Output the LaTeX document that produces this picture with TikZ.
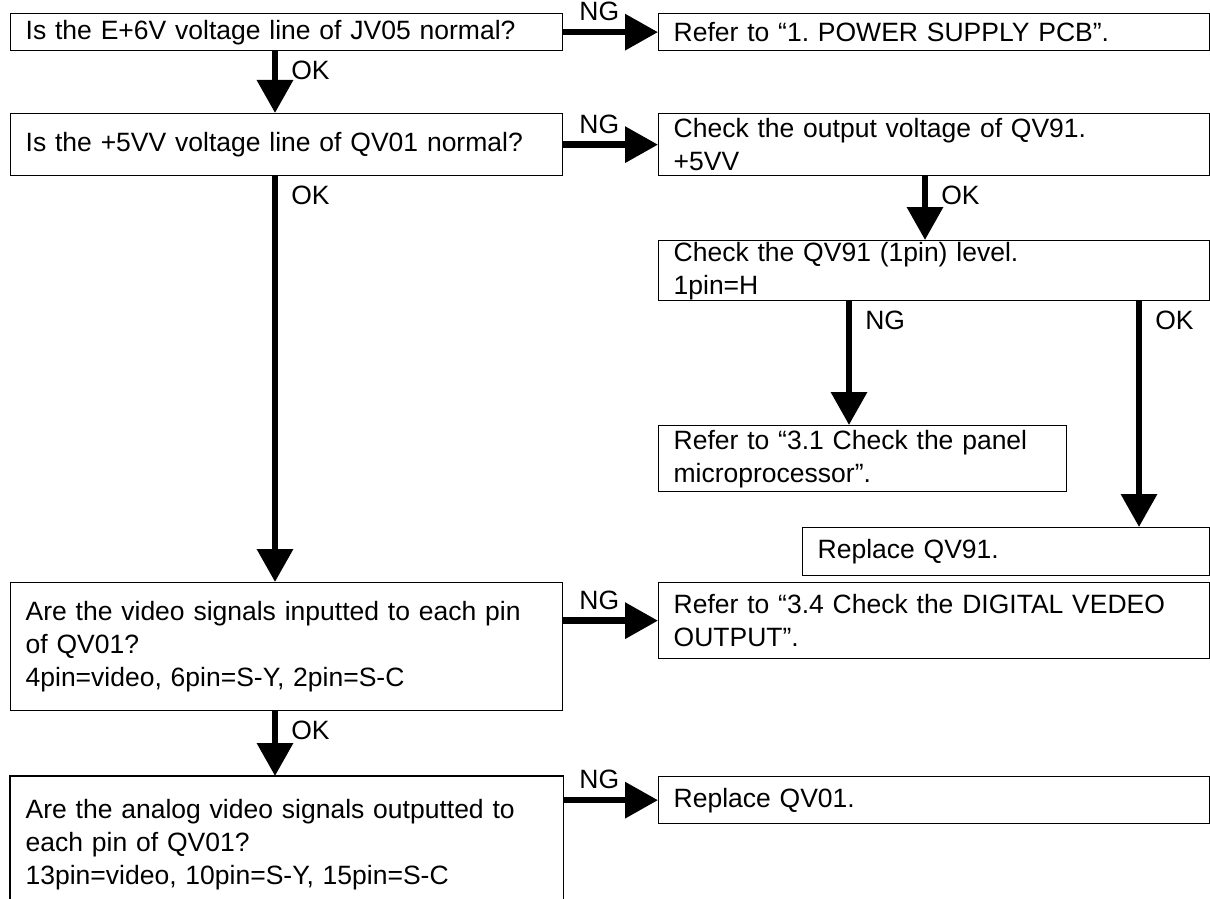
\documentclass[tikz,border=0pt]{standalone}
\usepackage{fontspec}
\setmainfont{Liberation Sans}
\usetikzlibrary{arrows.meta}
\frenchspacing

\begin{document}
\begin{tikzpicture}[
        x=1pt, y=-1pt,
        font=\fontsize{26.5}{33}\selectfont,
        box/.style={draw, line width=1.3pt, rectangle, anchor=north west, inner xsep=15pt, inner ysep=0pt, align=left, text width=#1},
        box/.default=522pt,
        arrow/.style={-{Triangle[length=33pt, width=35pt]}, line width=6.5pt},
        ng/.style={above=7pt, inner sep=1pt, pos=0.38},
        ok/.style={at start, anchor=north west, inner sep=1pt, xshift=12pt, yshift=-5pt}
    ]
\useasboundingbox (0,0) rectangle (1210,899);

        \coordinate (lcol) at (275,0);
        \coordinate (rcol) at (925,0);
        \coordinate (ngcol) at (849,0);
        \coordinate (okcol) at (1139,0);

        \node[box, minimum height=37pt] (q1) at (10,13) {Is the E+6V voltage line of JV05 normal?};
        \node[box=521pt, minimum height=37pt] (r1) at (658,13) {Refer to “1. POWER SUPPLY PCB”.};

        \node[box, minimum height=62pt] (q2) at (10,113) {Is the +5VV voltage line of QV01 normal?};
        \node[box=521pt, minimum height=62pt] (r2) at (658,113) {Check the output voltage of QV91.\\+5VV};

        \node[box=521pt, minimum height=60pt] (r3) at (658,240) {Check the QV91 (1pin) level.\\1pin=H};
        \node[box=378pt, minimum height=66pt] (r4) at (658,425) {Refer to “3.1 Check the panel\\microprocessor”.};
        \node[box=377pt, minimum height=48pt] (r5) at (802,527) {Replace QV91.};

        \node[box, minimum height=128pt] (q3) at (10,582) {Are the video signals inputted to each pin\\of QV01?\\4pin=video, 6pin=S-Y, 2pin=S-C};
        \node[box=521pt, minimum height=76pt] (r6) at (658,582) {Refer to “3.4 Check the DIGITAL VEDEO\\OUTPUT”.};

        \node[box, draw=none, minimum height=136pt] (q4) at (10,776) {Are the analog video signals outputted to\\each pin of QV01?\\13pin=video, 10pin=S-Y, 15pin=S-C};
        \draw[line width=1.3pt] (q4.south west) -- (q4.north west) -- (q4.north east) -- (q4.south east);
        \node[box=521pt, minimum height=47pt] (r7) at (658,776) {Replace QV01.};

\draw[arrow] (r1.west -| q1.east) -- node[ng] {NG} (r1.west);
        \draw[arrow] (q1.south -| lcol) -- node[ok] {OK} (q2.north -| lcol);
        \draw[arrow] (r2.west -| q2.east) -- node[ng] {NG} (r2.west);
        \draw[arrow] (q2.south -| lcol) -- node[ok] {OK} (q3.north -| lcol);
        \draw[arrow] (r2.south -| rcol) -- node[ok] {OK} (r3.north -| rcol);
        \draw[arrow] (r3.south -| ngcol) -- node[ok] {NG} (r4.north -| ngcol);
        \draw[arrow] (r3.south -| okcol) -- node[ok] {OK} (r5.north -| okcol);
        \draw[arrow] (r6.west -| q3.east) -- node[ng] {NG} (r6.west);
        \draw[arrow] (q3.south -| lcol) -- node[ok] {OK} (q4.north -| lcol);
        \draw[arrow] (r7.west -| q4.east) -- node[ng] {NG} (r7.west);

    \end{tikzpicture}
\end{document}
